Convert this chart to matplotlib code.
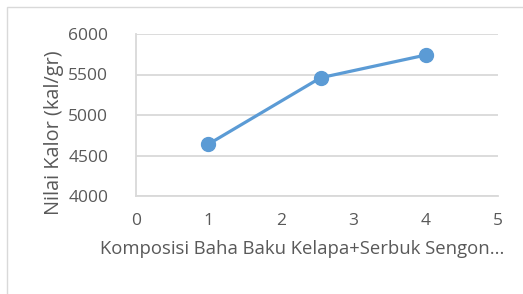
import matplotlib.pyplot as plt
from matplotlib.patches import Rectangle

# data
komposisi = [1, 2.55, 4]
nilai_kalor = [4640, 5460, 5740]
y_ticks = [4000, 4500, 5000, 5500, 6000]
x_ticks = [0, 1, 2, 3, 4, 5]

plt.rcParams['font.family'] = ['Open Sans', 'DejaVu Sans']
text_color = '#595959'
grid_color = '#d9d9d9'
line_color = '#5b9bd5'

fig = plt.figure(figsize=(5.23, 2.94), dpi=100)
ax = fig.add_axes([136 / 523, 1 - 196 / 294, (498 - 136) / 523, (196 - 34) / 294])

# outer chart frame
fig.patches.append(Rectangle((7 / 523, -0.1), 1.1, 1.1 - 7 / 294,
                             transform=fig.transFigure, fill=False,
                             edgecolor='#d9d9d9', linewidth=1.0))

ax.plot(komposisi, nilai_kalor, color=line_color, linewidth=2.3,
        marker='o', markersize=10, zorder=3, clip_on=False)

ax.set_xlim(0, 5)
ax.set_ylim(4000, 6000)
ax.set_xticks(x_ticks)
ax.set_yticks(y_ticks)
ax.yaxis.grid(True, color=grid_color, linewidth=1.3)
ax.set_axisbelow(True)

for side in ['top', 'right']:
    ax.spines[side].set_visible(False)
for side in ['left', 'bottom']:
    ax.spines[side].set_color(grid_color)
    ax.spines[side].set_linewidth(1.3)

ax.tick_params(axis='both', length=0, labelsize=12.5, labelcolor=text_color)
ax.tick_params(axis='y', pad=20)
ax.tick_params(axis='x', pad=12)

ax.set_ylabel('Nilai Kalor (kal/gr)', fontsize=14.3, color=text_color)
ax.yaxis.set_label_coords((64 - 136) / 362, 0.39)
ax.set_xlabel('Komposisi Baha Baku Kelapa+Serbuk Sengon...', fontsize=13.3,
              color=text_color)
ax.xaxis.set_label_coords(0.46, -0.27)

fig.savefig('out.png', dpi=100)
